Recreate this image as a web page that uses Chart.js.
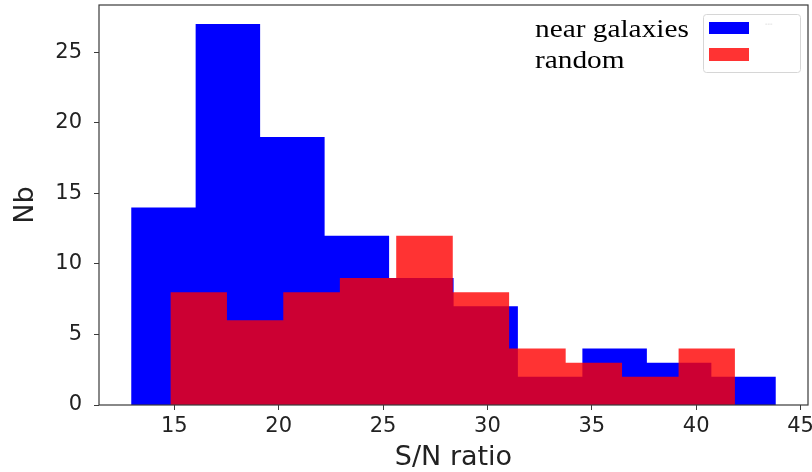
<!DOCTYPE html>
<html>
<head>
<meta charset="utf-8">
<script src="https://cdn.jsdelivr.net/npm/chart.js@4/dist/chart.umd.min.js"></script>
<style>
  html, body { margin: 0; padding: 0; background: #fff; }
  #wrap { width: 812px; height: 472px; position: relative; }
</style>
</head>
<body>
<div id="wrap"><canvas id="snChart"></canvas></div>
<script>
// bin edges and counts
const nearEdges = [12.93, 16.02, 19.11, 22.20, 25.29, 28.38, 31.46, 34.55, 37.64, 40.73, 43.82];
const nearCounts = [14, 27, 19, 12, 9, 7, 2, 4, 3, 2];
const randomEdges = [14.81, 17.52, 20.22, 22.93, 25.63, 28.34, 31.04, 33.75, 36.45, 39.16, 41.86];
const randomCounts = [8, 6, 8, 9, 12, 8, 4, 3, 2, 4];

const xTicks = [15, 20, 25, 30, 35, 40, 45];
const yTicks = [0, 5, 10, 15, 20, 25];
const seriesNames = ['near galaxies', 'random'];

const BLUE = '#0000ff';
const RED = 'rgba(255, 0, 0, 0.8)';

// each left edge carries its bin count, the last edge drops back to 0
function steps(edges, counts) {
  const pts = counts.map((c, i) => ({ x: edges[i], y: c }));
  pts.push({ x: edges[edges.length - 1], y: 0 });
  return pts;
}

const frame = {
  id: 'frame',
  afterDatasetsDraw(chart) {
    const a = chart.chartArea;
    const ctx = chart.ctx;
    ctx.save();
    ctx.strokeStyle = '#3a3a3a';
    ctx.lineWidth = 1.2;
    ctx.strokeRect(a.left, a.top, a.right - a.left, a.bottom - a.top);
    ctx.restore();
  }
};

const sideLegend = {
  id: 'sideLegend',
  afterDraw(chart) {
    const ctx = chart.ctx;
    ctx.save();
    // legend box
    const bx = 703, by = 14, bw = 97, bh = 58;
    ctx.fillStyle = 'rgba(255,255,255,0.8)';
    ctx.strokeStyle = '#d6d6d6';
    ctx.lineWidth = 1;
    ctx.beginPath();
    ctx.roundRect(bx + 0.5, by + 0.5, bw, bh, 3);
    ctx.fill();
    ctx.stroke();
    ctx.fillStyle = BLUE;
    ctx.fillRect(709, 22, 40, 12);
    ctx.fillStyle = RED;
    ctx.fillRect(709, 48, 40, 13);
    ctx.fillStyle = '#cfcfcf';
    ctx.font = '7px "DejaVu Sans"';
    ctx.fillText('---', 765, 26);
    // labels set beside the box
    ctx.fillStyle = '#000';
    ctx.font = '25.5px "Liberation Serif"';
    ctx.textBaseline = 'alphabetic';
    ctx.translate(535, 0);
    ctx.scale(1.15, 1);
    ctx.fillText(seriesNames[0], 0, 37);
    ctx.fillText(seriesNames[1], 0, 68);
    ctx.restore();
  }
};

new Chart(document.getElementById('snChart'), {
  type: 'line',
  data: {
    datasets: [
      {
        label: seriesNames[1],
        data: steps(randomEdges, randomCounts),
        stepped: 'before',
        fill: 'origin',
        backgroundColor: RED,
        borderColor: 'transparent',
        borderWidth: 0,
        pointRadius: 0,
        order: 1
      },
      {
        label: seriesNames[0],
        data: steps(nearEdges, nearCounts),
        stepped: 'before',
        fill: 'origin',
        backgroundColor: BLUE,
        borderColor: 'transparent',
        borderWidth: 0,
        pointRadius: 0,
        order: 2
      }
    ]
  },
  options: {
    responsive: true,
    maintainAspectRatio: false,
    animation: false,
    layout: { padding: { top: 5, right: 4, left: 0, bottom: 0 } },
    plugins: {
      legend: { display: false },
      tooltip: { enabled: false }
    },
    scales: {
      x: {
        type: 'linear',
        min: 11.39,
        max: 45.36,
        afterBuildTicks(scale) {
          scale.ticks = xTicks.map(v => ({ value: v }));
        },
        afterFit(scale) {
          scale.height = 67;
          scale.paddingLeft = 0;
          scale.paddingRight = 0;
        },
        grid: { display: true, drawOnChartArea: false, drawTicks: true, tickLength: 5, color: '#3a3a3a' },
        border: { display: false },
        ticks: {
          color: '#222',
          font: { family: 'DejaVu Sans', size: 21 },
          padding: 4,
          maxRotation: 0
        },
        title: {
          display: true,
          text: 'S/N ratio',
          color: '#222',
          font: { family: 'DejaVu Sans', size: 27, lineHeight: 1 },
          padding: { top: 0, bottom: 1 }
        }
      },
      y: {
        min: 0,
        max: 28.35,
        afterBuildTicks(scale) {
          scale.ticks = yTicks.map(v => ({ value: v }));
        },
        afterFit(scale) {
          scale.width = 99;
          scale.paddingTop = 0;
          scale.paddingBottom = 0;
        },
        grid: { display: true, drawOnChartArea: false, drawTicks: true, tickLength: 5, color: '#3a3a3a' },
        border: { display: false },
        ticks: {
          color: '#222',
          font: { family: 'DejaVu Sans', size: 21 },
          padding: 12
        },
        title: {
          display: true,
          text: 'Nb',
          color: '#222',
          font: { family: 'DejaVu Sans', size: 27, lineHeight: 1 },
          padding: { top: 12, bottom: 0 }
        }
      }
    }
  },
  plugins: [frame, sideLegend]
});
</script>
</body>
</html>
